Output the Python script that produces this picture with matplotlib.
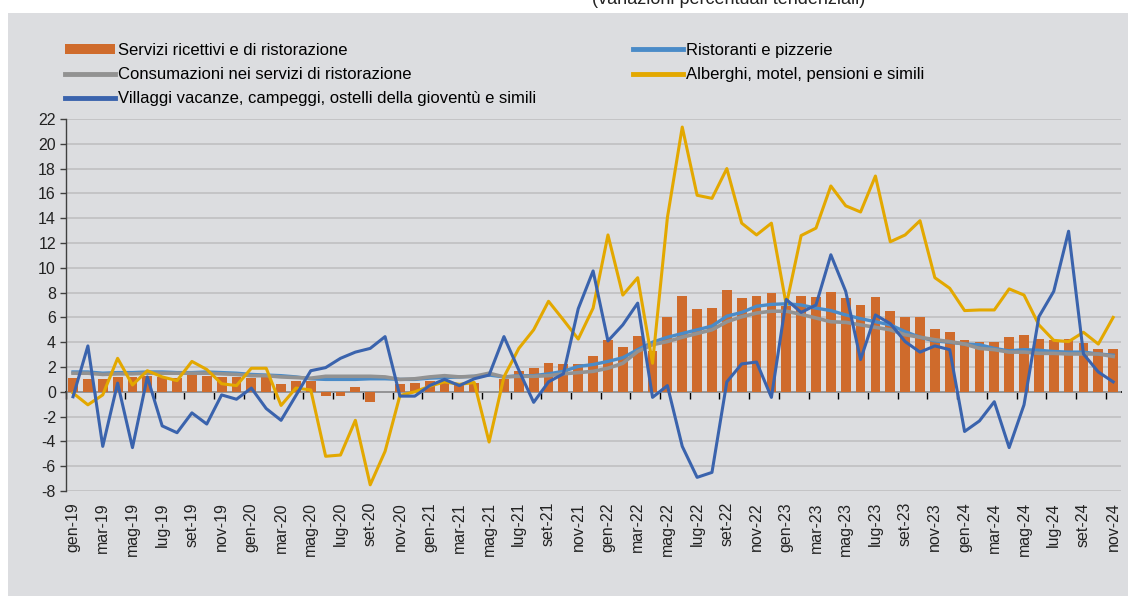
import matplotlib.pyplot as plt
import numpy as np
from matplotlib.patches import Rectangle, Patch
from matplotlib.lines import Line2D

plt.rcParams['axes.unicode_minus'] = False
plt.rcParams['font.family'] = ['Liberation Sans', 'DejaVu Sans']

# Mesi gen-19 .. nov-24
mesi = ['gen', 'feb', 'mar', 'apr', 'mag', 'giu', 'lug', 'ago', 'set', 'ott', 'nov', 'dic']
labels = [f"{m}-{a}" for a in range(19, 25) for m in mesi][:71]

servizi = [1.1, 1.0, 1.0, 1.2, 1.2, 1.25, 1.2, 1.1, 1.35, 1.25, 1.2, 1.2,
           1.1, 1.2, 0.65, 0.9, 0.85, -0.35, -0.35, 0.4, -0.8, 0.0, 0.65, 0.75,
           0.85, 0.7, 0.65, 0.75, 0.0, 1.0, 1.65, 1.95, 2.35, 2.25, 2.25, 2.9,
           4.2, 3.65, 4.5, 3.3, 6.0, 7.7, 6.65, 6.75, 8.2, 7.6, 7.75, 7.95,
           6.9, 7.75, 7.65, 8.05, 7.6, 7.0, 7.65, 6.5, 6.05, 6.05, 5.05, 4.85,
           4.2, 4.0, 4.0, 4.45, 4.55, 4.25, 4.15, 4.25, 3.9, 3.45, 3.45]

ristoranti = [1.6, 1.6, 1.5, 1.55, 1.55, 1.6, 1.6, 1.55, 1.55, 1.6, 1.55, 1.5,
              1.4, 1.35, 1.3, 1.2, 1.05, 1.0, 1.0, 1.0, 1.05, 1.05, 1.0, 1.0,
              1.1, 1.15, 1.2, 1.25, 1.35, 1.2, 1.3, 1.3, 1.45, 1.65, 2.05, 2.2,
              2.45, 2.75, 3.4, 4.0, 4.4, 4.7, 5.0, 5.3, 6.1, 6.4, 6.9, 7.05,
              7.1, 7.0, 6.75, 6.55, 6.2, 5.9, 5.65, 5.4, 4.85, 4.4, 4.1, 4.0,
              3.85, 3.8, 3.5, 3.3, 3.4, 3.35, 3.25, 3.2, 3.2, 3.05, 2.95]

consumazioni = [1.5, 1.5, 1.4, 1.45, 1.45, 1.5, 1.5, 1.5, 1.5, 1.5, 1.45, 1.4,
                1.3, 1.3, 1.2, 1.15, 1.1, 1.25, 1.25, 1.25, 1.25, 1.2, 1.0, 1.05,
                1.2, 1.3, 1.2, 1.25, 1.5, 1.2, 1.25, 1.25, 1.3, 1.45, 1.55, 1.65,
                1.9, 2.3, 3.25, 3.8, 4.05, 4.4, 4.7, 5.0, 5.65, 6.05, 6.35, 6.5,
                6.5, 6.25, 5.95, 5.65, 5.6, 5.4, 5.2, 5.0, 4.6, 4.4, 4.2, 4.05,
                3.85, 3.5, 3.4, 3.2, 3.2, 3.1, 3.1, 3.05, 3.05, 3.05, 2.85]

alberghi = [-0.1, -1.05, -0.25, 2.7, 0.55, 1.7, 1.2, 0.9, 2.45, 1.8, 0.65, 0.5,
            1.9, 1.9, -1.1, 0.3, 0.15, -5.2, -5.1, -2.3, -7.5, -4.8, -0.3, 0.0,
            0.45, 0.8, 0.6, 0.75, -4.05, 1.2, 3.5, 5.0, 7.3, 5.8, 4.25, 6.75,
            12.65, 7.8, 9.2, 2.3, 14.05, 21.35, 15.85, 15.6, 18.0, 13.6, 12.65, 13.6,
            7.0, 12.6, 13.2, 16.6, 15.0, 14.5, 17.4, 12.1, 12.65, 13.8, 9.2, 8.35,
            6.55, 6.6, 6.6, 8.3, 7.8, 5.4, 4.15, 4.05, 4.8, 3.85, 6.0]

villaggi = [-0.4, 3.7, -4.4, 0.7, -4.5, 1.2, -2.75, -3.3, -1.7, -2.6, -0.25, -0.6,
            0.3, -1.35, -2.3, -0.3, 1.7, 1.95, 2.7, 3.2, 3.5, 4.45, -0.35, -0.35,
            0.5, 1.0, 0.5, 1.05, 1.35, 4.45, 1.75, -0.85, 0.8, 1.45, 6.7, 9.75,
            4.1, 5.4, 7.15, -0.45, 0.5, -4.4, -6.9, -6.5, 0.8, 2.25, 2.4, -0.45,
            7.45, 6.4, 7.0, 11.05, 8.1, 2.6, 6.2, 5.5, 4.05, 3.2, 3.7, 3.4,
            -3.2, -2.35, -0.8, -4.5, -1.05, 6.05, 8.1, 12.95, 3.05, 1.6, 0.8]

c_bar = '#cf6b2c'
c_rist = '#4a8bc8'
c_cons = '#929292'
c_alb = '#e3a800'
c_vil = '#3a63ad'
bg = '#dcdde0'

fig = plt.figure(figsize=(11.28, 5.96), dpi=100, facecolor='white')
fig.patches.append(Rectangle((8 / 1128, 0), 1, (596 - 13) / 596, transform=fig.transFigure,
                             facecolor=bg, edgecolor='none', zorder=-10))

fig.text(0.646, 1 - 4 / 596, '(variazioni percentuali tendenziali)', ha='center',
         va='baseline', fontsize=13, color='#222222')

ax = fig.add_axes([65.6 / 1128, (596 - 491) / 596, 1055 / 1128, 372 / 596])
ax.set_facecolor(bg)

x = np.arange(len(labels))
ax.bar(x, servizi, width=0.66, color=c_bar, zorder=2)
ax.plot(x, ristoranti, color=c_rist, lw=2.4, zorder=3)
ax.plot(x, consumazioni, color=c_cons, lw=2.6, zorder=3)
ax.plot(x, alberghi, color=c_alb, lw=2.2, zorder=4)
ax.plot(x, villaggi, color=c_vil, lw=2.2, zorder=5)

ax.set_xlim(-0.5, len(labels) - 0.5)
ax.set_ylim(-8, 22)
ax.set_yticks(np.arange(-8, 23, 2))
ax.tick_params(axis='y', length=4, width=1, color='#404040', labelsize=11.5,
               labelcolor='#222222', pad=3)
ax.set_xticks(x[::2])
ax.set_xticklabels(labels[::2], rotation=90, fontsize=11.5, color='#222222')
ax.tick_params(axis='x', length=0, pad=8)
ax.grid(axis='y', color='#bdbdbf', lw=1.1)
ax.set_axisbelow(True)
for s in ['top', 'right', 'bottom']:
    ax.spines[s].set_visible(False)
ax.spines['left'].set_color('#404040')
ax.spines['left'].set_linewidth(1.0)

# asse orizzontale sullo zero con tacche ogni due mesi
sec = ax.secondary_xaxis(8 / 30)
sec.set_xticks(np.arange(-0.5, len(labels), 2))
sec.tick_params(axis='x', length=5, width=1, color='black', labelbottom=False)
sec.spines['bottom'].set_color('black')
sec.spines['bottom'].set_linewidth(1.3)

leg_font = {'family': ['Liberation Sans Narrow', 'Liberation Sans'], 'size': 12}
h1 = [Patch(facecolor=c_bar, edgecolor='none'),
      Line2D([], [], color=c_cons, lw=3.5),
      Line2D([], [], color=c_vil, lw=3.5)]
l1 = ['Servizi ricettivi e di ristorazione',
      'Consumazioni nei servizi di ristorazione',
      'Villaggi vacanze, campeggi, ostelli della gioventù e simili']
h2 = [Line2D([], [], color=c_rist, lw=3.5),
      Line2D([], [], color=c_alb, lw=3.5)]
l2 = ['Ristoranti e pizzerie', 'Alberghi, motel, pensioni e simili']

kw = dict(loc='upper left', frameon=False, borderpad=0, borderaxespad=0,
          handlelength=3.0, handleheight=0.6, handletextpad=0.2,
          labelspacing=0.55, prop=leg_font)
leg1 = fig.legend(h1, l1, bbox_to_anchor=(65 / 1128, 1 - 43 / 596), **kw)
leg2 = fig.legend(h2, l2, bbox_to_anchor=(633 / 1128, 1 - 43 / 596), **kw)

fig.savefig('out.png', dpi=100, facecolor=fig.get_facecolor())
